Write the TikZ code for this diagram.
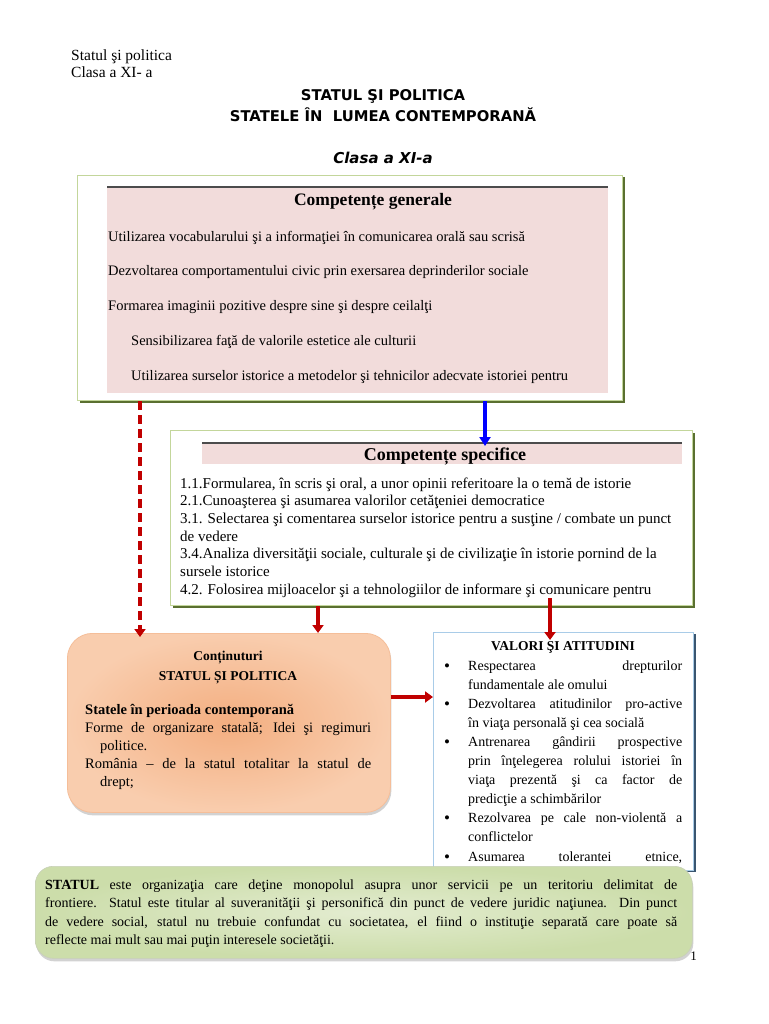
\documentclass[tikz,border=0pt]{standalone}
\usepackage{fontspec}
\setmainfont{Liberation Serif}
\newfontfamily\comicfont{DejaVu Sans}
\usetikzlibrary{arrows.meta,shadows}
\definecolor{pinkfill}{HTML}{F2DCDB}
\definecolor{lgreen}{HTML}{C3D69B}
\definecolor{dgreen}{HTML}{5A7030}
\definecolor{arrred}{HTML}{C00000}
\definecolor{lblue}{HTML}{A9CCE8}
\definecolor{dblue}{HTML}{3A5670}
\definecolor{orangeA}{HTML}{F3AE80}
\definecolor{orangeB}{HTML}{F9CDAE}
\definecolor{greenA}{HTML}{CCDDAA}
\definecolor{greenB}{HTML}{E3ECD0}
\newcommand{\jl}[2]{\makebox[#1][s]{#2}}
\begin{document}
\begin{tikzpicture}[x=1pt,y=-1pt,
  txt/.style={inner sep=0pt, anchor=base west, align=left},
  boxshadow/.style={inner sep=0pt, anchor=north west},
  redarrow/.style={draw=arrred, line width=4pt, -{Triangle[length=8pt,width=11pt]}},
  bluearrow/.style={draw=blue, line width=4pt, -{Triangle[length=9pt,width=11pt]}},
  dasharrow/.style={draw=arrred, line width=4pt, dash pattern=on 9pt off 5pt, -{Triangle[length=8pt,width=11pt]}},
  pinkband/.style={fill=pinkfill, inner sep=0pt, anchor=north west},
  bulletnode/.style={inner sep=0pt, anchor=base, font=\fontsize{17}{17}\selectfont}
]
\useasboundingbox (0,0) rectangle (768,1024);
\fill[white] (0,0) rectangle (768,1024);

% header (base anchor = last line)
\node[txt, font=\fontsize{15.5}{17}\selectfont] (hdr) at (71,78) {Statul şi  politica\\Clasa a XI- a};

% title
\node[inner sep=0pt, anchor=base, font=\comicfont\bfseries\fontsize{14.8}{21}\selectfont, align=center] (title) at (383,122)
  {STATUL ŞI POLITICA\\STATELE ÎN \ LUMEA CONTEMPORANĂ};
\node[inner sep=0pt, anchor=base, font=\comicfont\bfseries\itshape\fontsize{15}{15}\selectfont] (clasa) at (383,164) {Clasa a XI-a};

% Competente generale box
\fill[dgreen] (79.5,177.5) rectangle (624.5,402.5);
\node[boxshadow, draw=lgreen, fill=white, line width=1pt, minimum width=545pt, minimum height=225pt] (gen) at (77,175) {};
\node[pinkband, minimum width=501pt, minimum height=206pt] (genband) at (107,187) {};
\draw[gray!60!black, line width=1.3pt] (genband.north west) -- (genband.north east);
\node[inner sep=0pt, anchor=base, font=\bfseries\fontsize{17.5}{17.5}\selectfont] (gentitle) at (373,206) {Competențe generale};
\node[txt, font=\fontsize{14.5}{34.75}\selectfont] (genitems) at (108,380)
  {Utilizarea vocabularului şi a informaţiei în comunicarea orală sau scrisă\\
   Dezvoltarea comportamentului civic prin exersarea deprinderilor sociale\\
   Formarea imaginii pozitive despre sine şi despre ceilalţi\\
   \hspace*{23pt}Sensibilizarea faţă de valorile estetice ale culturii\\
   \hspace*{23pt}Utilizarea surselor istorice a metodelor şi tehnicilor adecvate istoriei pentru};

% Competente specifice box
\fill[dgreen] (172.5,432.5) rectangle (694.5,607.5);
\node[boxshadow, draw=lgreen, fill=white, line width=1pt, minimum width=522pt, minimum height=175pt] (spec) at (170,430) {};
\node[pinkband, minimum width=480pt, minimum height=21pt] (specband) at (202,443) {};
\draw[gray!60!black, line width=1.3pt] (specband.north west) -- (specband.north east);
\node[inner sep=0pt, anchor=base, font=\bfseries\fontsize{18}{18}\selectfont] (spectitle) at (445,460) {Competențe specifice};
\node[txt, font=\fontsize{15}{17.7}\selectfont] (specitems) at (180,594.2)
  {1.1.Formularea, în scris şi oral, a unor opinii referitoare la o temă de istorie\\
   2.1.Cunoaşterea şi asumarea valorilor cetăţeniei democratice\\
   3.1. Selectarea şi comentarea surselor istorice pentru a susţine / combate un punct\\
   de vedere\\
   3.4.Analiza diversităţii sociale, culturale şi de civilizaţie în istorie pornind de la\\
   sursele istorice\\
   4.2. Folosirea mijloacelor şi a tehnologiilor de informare şi comunicare pentru};

% Continuturi box
\node[boxshadow, rounded corners=25pt, shading=radial, inner color=orangeA, outer color=orangeB,
      draw=orangeA!80, line width=0.8pt, minimum width=323pt, minimum height=179pt,
      drop shadow={opacity=0.35, shadow xshift=1pt, shadow yshift=-3pt}] (cont) at (67,633) {};
\node[inner sep=0pt, anchor=base, font=\bfseries\fontsize{13.5}{20}\selectfont, align=center] (conttitle) at (228,680)
  {Conținuturi\\STATUL ȘI POLITICA};
\node[txt, font=\fontsize{14.5}{18}\selectfont] (contitems) at (85,786)
  {\textbf{Statele în perioada contemporană}\\
   \jl{286pt}{Forme de organizare statală; Idei şi regimuri}\\
   \hspace*{15pt}politice.\\
   \jl{286pt}{România – de la statul totalitar la statul de}\\
   \hspace*{15pt}drept;};

% Valori box
\fill[dblue] (435,634) rectangle (695.5,872);
\node[boxshadow, draw=lblue, fill=white, line width=1pt, minimum width=260pt, minimum height=238pt] (val) at (433,632) {};
\node[inner sep=0pt, anchor=base, font=\bfseries\fontsize{13.5}{13.5}\selectfont] (valtitle) at (563,650) {VALORI ŞI ATITUDINI};
\node[txt, font=\fontsize{14}{19.1}\selectfont] (valitems) at (468,861)
  {\jl{214pt}{Respectarea drepturilor}\\
   fundamentale ale omului\\
   \jl{214pt}{Dezvoltarea atitudinilor pro-active}\\
   în viaţa personală şi cea socială\\
   \jl{214pt}{Antrenarea gândirii prospective}\\
   \jl{214pt}{prin înţelegerea rolului istoriei în}\\
   \jl{214pt}{viaţa prezentă şi ca factor de}\\
   predicţie a schimbărilor\\
   \jl{214pt}{Rezolvarea pe cale non-violentă a}\\
   conflictelor\\
   \jl{214pt}{Asumarea tolerantei etnice,}};
\node[bulletnode] (b1) at (447,671) {•};
\node[bulletnode] (b2) at (447,709.2) {•};
\node[bulletnode] (b3) at (447,747.4) {•};
\node[bulletnode] (b4) at (447,823.8) {•};
\node[bulletnode] (b5) at (447,862) {•};

% page number
\node[inner sep=0pt, anchor=base east, font=\fontsize{13}{13}\selectfont] (pgnum) at (697,960) {1};

% Statul definition box
\node[boxshadow, rounded corners=18pt, shading=radial, inner color=greenB, outer color=greenA,
      draw=greenA!80!black!60, line width=0.6pt, minimum width=657pt, minimum height=92pt,
      drop shadow={opacity=0.35, shadow xshift=1pt, shadow yshift=-3pt}] (def) at (35,866) {};
\node[txt, font=\fontsize{14}{18.6}\selectfont] (deftext) at (45,944.8)
  {\jl{632pt}{\textbf{STATUL} este organizaţia care deţine monopolul asupra unor servicii pe un teritoriu delimitat de}\\
   \jl{632pt}{frontiere. Statul este titular al suveranităţii şi personifică din punct de vedere juridic naţiunea. Din punct}\\
   \jl{632pt}{de vedere social, statul nu trebuie confundat cu societatea, el fiind o instituţie separată care poate să}\\
   reflecte mai mult sau mai puţin interesele societăţii.};

% connectors
\coordinate (xdash) at (140,0);
\coordinate (xblue) at (485,0);
\coordinate (xred1) at (318,0);
\coordinate (xred2) at (550,0);
\coordinate (yright) at (0,697);
\draw[dasharrow, shorten >=-4pt] (gen.south -| xdash) -- (cont.north -| xdash);
\draw[bluearrow, shorten >=-3pt] (gen.south -| xblue) -- (specband.north -| xblue);
\draw[redarrow] (spec.south -| xred1) -- (cont.north -| xred1);
\draw[redarrow, shorten <=-8pt, shorten >=-8pt] (spec.south -| xred2) -- (val.north -| xred2);
\draw[redarrow] (cont.east |- yright) -- (val.west |- yright);
\end{tikzpicture}
\end{document}
